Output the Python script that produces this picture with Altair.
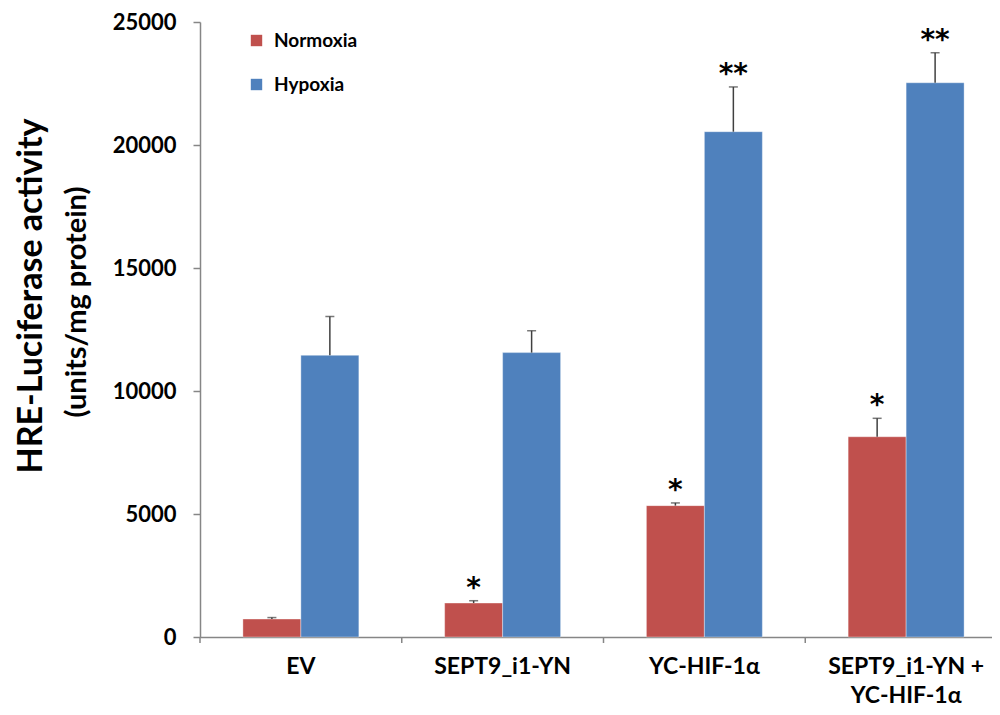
import altair as alt
import pandas as pd

categories = ["EV", "SEPT9_i1-YN", "YC-HIF-1α", "SEPT9_i1-YN +|YC-HIF-1α"]
series = ["Normoxia", "Hypoxia"]
normoxia = [730, 1380, 5340, 8140]
normoxia_err = [60, 95, 110, 750]
hypoxia = [11450, 11560, 20540, 22530]
hypoxia_err = [1580, 890, 1820, 1220]
normoxia_sig = ["", "*", "*", "*"]
hypoxia_sig = ["", "", "**", "**"]
y_ticks = [0, 5000, 10000, 15000, 20000, 25000]

rows = []
for i, c in enumerate(categories):
    rows.append({"cat": c, "series": series[0], "value": normoxia[i],
                 "top": normoxia[i] + normoxia_err[i], "sig": normoxia_sig[i]})
    rows.append({"cat": c, "series": series[1], "value": hypoxia[i],
                 "top": hypoxia[i] + hypoxia_err[i], "sig": hypoxia_sig[i]})
df = pd.DataFrame(rows)

FONT = "Lato"
AXIS_GRAY = "#868686"

xscale = alt.Scale(domain=categories, range=[0, 807], paddingInner=0, paddingOuter=0)
xoff = alt.XOffset("series:N", sort=series,
                   scale=alt.Scale(domain=series, paddingInner=0, paddingOuter=0.74))
yscale = alt.Scale(domain=[0, 25000], nice=False)

x_enc = alt.X("cat:N", sort=categories, scale=xscale,
              axis=alt.Axis(title=None, labelAngle=0, ticks=False, tickSize=0,
                            labelFont=FONT, labelFontSize=23, labelFontWeight="bold",
                            labelColor="#000000", labelPadding=18, labelBaseline="top",
                            labelLineHeight=29, labelExpr="split(datum.label, '|')",
                            domainColor=AXIS_GRAY, domainWidth=1.5))
y_enc = alt.Y("value:Q", scale=yscale,
              axis=alt.Axis(title=None, values=y_ticks, grid=False, format="d",
                            labelFont=FONT, labelFontSize=22, labelFontWeight="bold",
                            labelColor="#000000", labelPadding=17,
                            tickSize=7, tickColor=AXIS_GRAY, tickWidth=1.5,
                            domainColor=AXIS_GRAY, domainWidth=1.5))

color = alt.Color("series:N", sort=series,
                  scale=alt.Scale(domain=series, range=["#C0504D", "#4F81BD"]),
                  legend=alt.Legend(title=None, orient="none", legendX=47, legendY=9,
                                    symbolType="square", symbolSize=130,
                                    symbolStrokeWidth=0, rowPadding=24,
                                    labelFont=FONT, labelFontSize=19,
                                    labelFontWeight="bold", labelColor="#000000",
                                    labelOffset=8, padding=0))

bars = alt.Chart(df).mark_bar(stroke="#ffffff", strokeWidth=0.6, strokeOpacity=0.6).encode(
    x=x_enc, xOffset=xoff, y=y_enc, color=color)

err = alt.Chart(df).mark_rule(color="#404040", strokeWidth=1.5).encode(
    x=alt.X("cat:N", sort=categories, scale=xscale), xOffset=xoff,
    y="value:Q", y2="top:Q")

caps = alt.Chart(df).mark_tick(color="#404040", thickness=1.5, size=9).encode(
    x=alt.X("cat:N", sort=categories, scale=xscale), xOffset=xoff,
    y=alt.Y("top:Q", scale=yscale))

stars = alt.Chart(df).mark_text(font="DejaVu Sans", fontWeight="bold", fontSize=28,
                                baseline="alphabetic", dy=-4, color="#000000").encode(
    x=alt.X("cat:N", sort=categories, scale=xscale), xOffset=xoff,
    y=alt.Y("top:Q", scale=yscale), text="sig:N")

xticks = alt.Chart(df[df["series"] == "Normoxia"]).mark_rule(
    color=AXIS_GRAY, strokeWidth=1.5).encode(
    x=alt.X("cat:N", sort=categories, scale=xscale, bandPosition=0),
    y=alt.value(615), y2=alt.value(621))

title1 = alt.Chart(pd.DataFrame({"t": ["HRE-Luciferase activity"]})).mark_text(
    font=FONT, fontWeight="bold", fontSize=34, angle=270, baseline="middle",
    align="center", color="#000000").encode(
    x=alt.value(-168), y=alt.value(274), text="t:N")
title2 = alt.Chart(pd.DataFrame({"t": ["(units/mg protein)"]})).mark_text(
    font=FONT, fontWeight="bold", fontSize=29, angle=270, baseline="middle",
    align="center", color="#000000").encode(
    x=alt.value(-123), y=alt.value(280), text="t:N")

chart = alt.layer(bars, err, caps, stars, xticks, title1, title2).properties(
    width=792, height=615,
    autosize=alt.AutoSizeParams(type="none"),
    padding={"left": 192, "top": 14, "right": 0, "bottom": 70},
).configure_view(stroke=None)

chart.save("out.html", embed_options={"renderer": "svg", "actions": False})
